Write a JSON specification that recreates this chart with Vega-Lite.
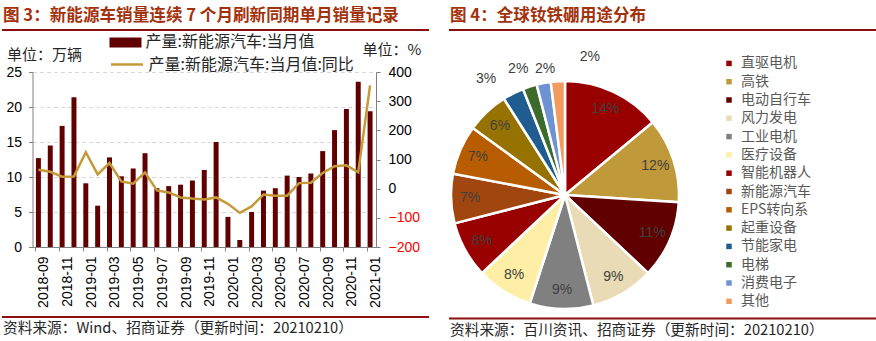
{
  "$schema": "https://vega.github.io/schema/vega-lite/v6.json",
  "background": "white",
  "padding": {"left": 2, "top": 7, "right": 0, "bottom": 0},
  "config": {
    "view": {"stroke": null},
    "font": "Liberation Sans",
    "axis": {"labelFont": "Liberation Sans", "titleFont": "Noto Sans CJK SC"},
    "legend": {"labelFont": "Noto Sans CJK SC", "labelLimit": 0}
  },
  "concat": [
    {
      "concat": [
        {
          "concat": [
            {
              "width": 425,
              "height": 0.01,
              "view": {"stroke": "#8C0F0F", "strokeWidth": 2},
              "title": {"text": "图 3：新能源车销量连续 7 个月刷新同期单月销量记录", "anchor": "start", "font": "Noto Sans CJK SC", "fontSize": 16.6, "fontWeight": "bold", "color": "#A3320B", "offset": 5},
              "data": {"values": []},
              "mark": "text",
              "encoding": {}
            },
            {
              "width": 425,
              "height": 175,
              "data": {"values": [
                {"month": "2018-09", "v": 12.7, "yoy": 65},
                {"month": "2018-10", "v": 14.5, "yoy": 58},
                {"month": "2018-11", "v": 17.3, "yoy": 41},
                {"month": "2018-12", "v": 21.4, "yoy": 42},
                {"month": "2019-01", "v": 9.1, "yoy": 125},
                {"month": "2019-02", "v": 5.9, "yoy": 49},
                {"month": "2019-03", "v": 12.8, "yoy": 88},
                {"month": "2019-04", "v": 10.1, "yoy": 25},
                {"month": "2019-05", "v": 11.2, "yoy": 17},
                {"month": "2019-06", "v": 13.4, "yoy": 56},
                {"month": "2019-07", "v": 8.4, "yoy": -6},
                {"month": "2019-08", "v": 8.7, "yoy": -13},
                {"month": "2019-09", "v": 8.9, "yoy": -30},
                {"month": "2019-10", "v": 9.5, "yoy": -34},
                {"month": "2019-11", "v": 11.0, "yoy": -37},
                {"month": "2019-12", "v": 15.0, "yoy": -30},
                {"month": "2020-01", "v": 4.3, "yoy": -52},
                {"month": "2020-02", "v": 1.0, "yoy": -83},
                {"month": "2020-03", "v": 5.0, "yoy": -61},
                {"month": "2020-04", "v": 8.05, "yoy": -20},
                {"month": "2020-05", "v": 8.4, "yoy": -24},
                {"month": "2020-06", "v": 10.2, "yoy": -24},
                {"month": "2020-07", "v": 10.0, "yoy": 19},
                {"month": "2020-08", "v": 10.5, "yoy": 20},
                {"month": "2020-09", "v": 13.7, "yoy": 54},
                {"month": "2020-10", "v": 16.7, "yoy": 77},
                {"month": "2020-11", "v": 19.7, "yoy": 80},
                {"month": "2020-12", "v": 23.6, "yoy": 56},
                {"month": "2021-01", "v": 19.4, "yoy": 354}
              ]},
              "layer": [
                {
                  "mark": {"type": "bar"},
                  "encoding": {
                    "x": {"field": "month", "type": "ordinal", "scale": {"range": [29.5, 373], "paddingInner": 0.58, "paddingOuter": 0.29},
                      "axis": {"values": ["2018-09","2018-11","2019-01","2019-03","2019-05","2019-07","2019-09","2019-11","2020-01","2020-03","2020-05","2020-07","2020-09","2020-11","2021-01"],
                        "labelAngle": 270, "labelFontSize": 14, "labelColor": "#000000", "labelPadding": 5, "tickSize": 4, "bandPosition": 0, "labelOffset": 6,
                        "domainColor": "#808080", "tickColor": "#808080", "title": null, "grid": false}},
                    "y": {"field": "v", "type": "quantitative", "scale": {"domain": [0, 25]},
                      "axis": {"orient": "left", "offset": -29.5, "values": [0,5,10,15,20,25], "grid": true, "gridDash": [4,3], "gridColor": "#D9D9D9",
                        "domainColor": "#808080", "tickColor": "#808080", "tickSize": 4, "labelFontSize": 14, "labelColor": "#000000", "labelPadding": 7,
                        "title": "单位：万辆", "titleAngle": 0, "titleAlign": "left", "titleBaseline": "middle", "titleX": -26, "titleY": -18,
                        "titleFontSize": 15, "titleFontWeight": "normal", "titleColor": "#262626"}},
                    "fill": {"datum": "产量:新能源汽车:当月值", "type": "nominal", "scale": {"range": ["#600000"]},
                      "legend": {"orient": "none", "legendX": 106.5, "legendY": -3.6, "title": null, "symbolType": "M-1,-0.3125H1V0.3125H-1Z", "symbolSize": 1024,
                        "symbolStrokeWidth": 0, "labelFontSize": 16, "labelColor": "#262626", "labelOffset": 4}}
                  }
                },
                {
                  "mark": {"type": "line", "strokeWidth": 2.5},
                  "encoding": {
                    "x": {"field": "month", "type": "ordinal"},
                    "y": {"field": "yoy", "type": "quantitative", "scale": {"domain": [-200, 400]},
                      "axis": {"orient": "right", "offset": -52, "values": [-200,-100,0,100,200,300,400], "grid": false,
                        "domainColor": "#808080", "tickColor": "#808080", "tickSize": 4, "labelFontSize": 14, "labelPadding": 8,
                        "labelColor": {"condition": {"test": "datum.value < 0", "value": "#FF0000"}, "value": "#000000"},
                        "title": "单位：%", "titleAngle": 0, "titleAlign": "left", "titleBaseline": "middle", "titleX": -14, "titleY": -23,
                        "titleFontSize": 15, "titleFontWeight": "normal", "titleColor": "#262626"}},
                    "stroke": {"datum": "产量:新能源汽车:当月值:同比", "type": "nominal", "scale": {"range": ["#C49A3A"]},
                      "legend": {"orient": "none", "legendX": 106.5, "legendY": 17, "title": null, "symbolType": "stroke", "symbolSize": 1024,
                        "symbolStrokeWidth": 2.5, "labelFontSize": 16, "labelColor": "#262626", "labelOffset": 4}}
                  }
                }
              ],
              "resolve": {"scale": {"y": "independent"}}
            }
          ],
          "columns": 1,
          "align": "none",
          "spacing": 10
        },
        {
          "width": 425,
          "height": 0.01,
          "view": {"stroke": "#8C0F0F", "strokeWidth": 2},
          "title": {"text": "资料来源：Wind、招商证券（更新时间：20210210）", "orient": "bottom", "anchor": "start", "font": "Noto Sans CJK SC", "fontSize": 14.7, "fontWeight": "normal", "color": "#262626", "offset": 4},
          "data": {"values": []},
          "mark": "text",
          "encoding": {}
        }
      ],
      "columns": 1,
      "align": "none",
      "spacing": 8
    },
    {
      "concat": [
        {
          "concat": [
            {
              "width": 428,
              "height": 0.01,
              "view": {"stroke": "#8C0F0F", "strokeWidth": 2},
              "title": {"text": "图 4：全球钕铁硼用途分布", "anchor": "start", "font": "Noto Sans CJK SC", "fontSize": 16.6, "fontWeight": "bold", "color": "#A3320B", "offset": 5},
              "data": {"values": []},
              "mark": "text",
              "encoding": {}
            },
            {
              "width": 230,
              "height": 230,
              "data": {"values": [
                {"n": 1, "cat": "直驱电机", "share": 0.14},
                {"n": 2, "cat": "高铁", "share": 0.12},
                {"n": 3, "cat": "电动自行车", "share": 0.11},
                {"n": 4, "cat": "风力发电", "share": 0.09},
                {"n": 5, "cat": "工业电机", "share": 0.09},
                {"n": 6, "cat": "医疗设备", "share": 0.08},
                {"n": 7, "cat": "智能机器人", "share": 0.08},
                {"n": 8, "cat": "新能源汽车", "share": 0.07},
                {"n": 9, "cat": "EPS转向系", "share": 0.07},
                {"n": 10, "cat": "起重设备", "share": 0.06},
                {"n": 11, "cat": "节能家电", "share": 0.03},
                {"n": 12, "cat": "电梯", "share": 0.02},
                {"n": 13, "cat": "消费电子", "share": 0.02},
                {"n": 14, "cat": "其他", "share": 0.02}
              ]},
              "layer": [
                {
                  "mark": {"type": "arc", "outerRadius": 114, "stroke": "#FFFFFF", "strokeWidth": 2.5},
                  "encoding": {
                    "theta": {"field": "share", "type": "quantitative", "stack": true, "scale": {"domain": [0, 1]}},
                    "order": {"field": "n", "type": "quantitative"},
                    "color": {"field": "cat", "type": "nominal",
                      "scale": {"domain": ["直驱电机","高铁","电动自行车","风力发电","工业电机","医疗设备","智能机器人","新能源汽车","EPS转向系","起重设备","节能家电","电梯","消费电子","其他"],
                        "range": ["#990000","#C0993A","#600000","#E8DBB5","#808080","#FFEFA6","#990000","#A0460E","#B85C00","#967300","#1F5C8F","#3D6B2B","#6F93D2","#F29B5F"]},
                      "legend": {"orient": "none", "legendX": 719, "legendY": 26.4, "title": null, "symbolType": "square", "symbolSize": 30, "symbolStrokeWidth": 0,
                        "labelFontSize": 14, "labelColor": "#595959", "rowPadding": 4.3, "labelOffset": 5}}
                  }
                },
                {
                  "mark": {"type": "text", "radius": 95, "fontSize": 14, "fill": "#404040", "font": "Liberation Sans"},
                  "encoding": {
                    "theta": {"field": "share", "type": "quantitative", "stack": true},
                    "order": {"field": "n", "type": "quantitative"},
                    "text": {"condition": {"test": "datum.share >= 0.06", "field": "share", "format": ".0%"}, "value": ""}
                  }
                },
                {
                  "transform": [
                    {"window": [{"op": "sum", "field": "share", "as": "cum"}], "sort": [{"field": "n", "order": "ascending"}], "frame": [null, 0]},
                    {"filter": "datum.cat === '节能家电'"}
                  ],
                  "mark": {"type": "text", "radius": 130, "thetaOffset": -0.0942, "dx": -20, "fontSize": 14, "fill": "#404040", "font": "Liberation Sans"},
                  "encoding": {
                    "theta": {"field": "cum", "type": "quantitative", "stack": null},
                    "text": {"field": "share", "type": "quantitative", "format": ".0%"}
                  }
                },
                {
                  "transform": [
                    {"window": [{"op": "sum", "field": "share", "as": "cum"}], "sort": [{"field": "n", "order": "ascending"}], "frame": [null, 0]},
                    {"filter": "datum.cat === '电梯'"}
                  ],
                  "mark": {"type": "text", "radius": 132, "thetaOffset": -0.0628, "dx": -6, "fontSize": 14, "fill": "#404040", "font": "Liberation Sans"},
                  "encoding": {
                    "theta": {"field": "cum", "type": "quantitative", "stack": null},
                    "text": {"field": "share", "type": "quantitative", "format": ".0%"}
                  }
                },
                {
                  "transform": [
                    {"window": [{"op": "sum", "field": "share", "as": "cum"}], "sort": [{"field": "n", "order": "ascending"}], "frame": [null, 0]},
                    {"filter": "datum.cat === '消费电子'"}
                  ],
                  "mark": {"type": "text", "radius": 128, "thetaOffset": -0.0628, "dx": 4, "fontSize": 14, "fill": "#404040", "font": "Liberation Sans"},
                  "encoding": {
                    "theta": {"field": "cum", "type": "quantitative", "stack": null},
                    "text": {"field": "share", "type": "quantitative", "format": ".0%"}
                  }
                },
                {
                  "transform": [
                    {"window": [{"op": "sum", "field": "share", "as": "cum"}], "sort": [{"field": "n", "order": "ascending"}], "frame": [null, 0]},
                    {"filter": "datum.cat === '其他'"}
                  ],
                  "mark": {"type": "text", "radius": 130, "thetaOffset": -0.0628, "dx": 33, "dy": -8, "fontSize": 14, "fill": "#404040", "font": "Liberation Sans"},
                  "encoding": {
                    "theta": {"field": "cum", "type": "quantitative", "stack": null},
                    "text": {"field": "share", "type": "quantitative", "format": ".0%"}
                  }
                }
              ]
            }
          ],
          "columns": 1,
          "align": "none",
          "spacing": 18
        },
        {
          "width": 428,
          "height": 0.01,
          "view": {"stroke": "#8C0F0F", "strokeWidth": 2},
          "title": {"text": "资料来源：百川资讯、招商证券（更新时间：20210210）", "orient": "bottom", "anchor": "start", "font": "Noto Sans CJK SC", "fontSize": 14.7, "fontWeight": "normal", "color": "#262626", "offset": 4},
          "data": {"values": []},
          "mark": "text",
          "encoding": {}
        }
      ],
      "columns": 1,
      "align": "none",
      "spacing": 3.5
    }
  ],
  "columns": 2,
  "align": "none",
  "spacing": 17
}
